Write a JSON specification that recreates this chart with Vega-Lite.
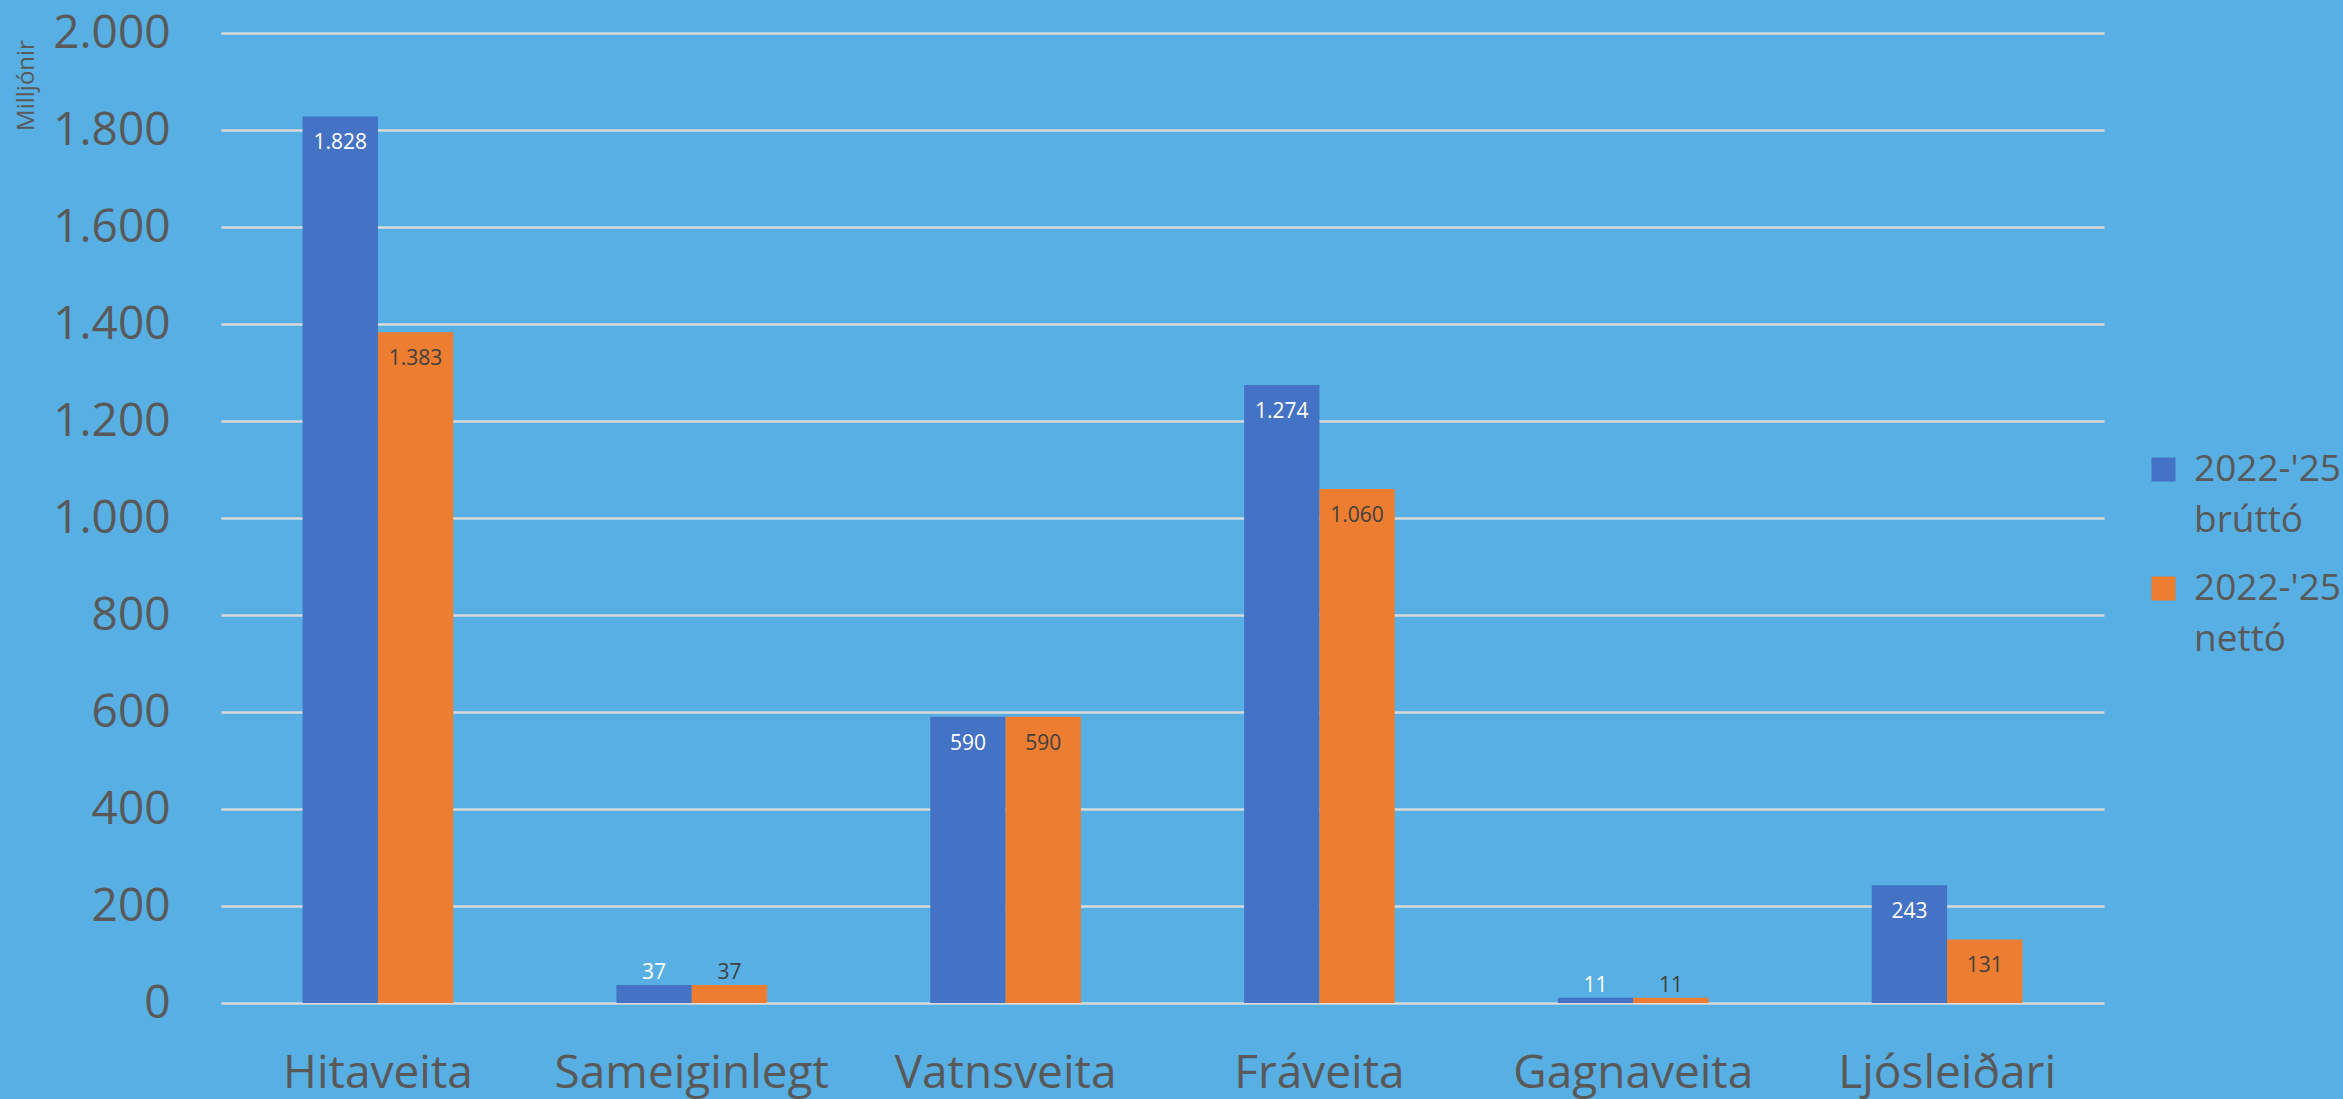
{
  "$schema": "https://vega.github.io/schema/vega-lite/v6.json",
  "width": 1883,
  "height": 970,
  "autosize": {"type": "none"},
  "padding": {"left": 221, "top": 33, "right": 239, "bottom": 96},
  "background": "#57AFE3",
  "config": {
    "view": {"stroke": null},
    "font": "Open Sans",
    "style": {"guide-label": {"lineHeight": 51}},
    "locale": {"number": {"decimal": ",", "thousands": ".", "grouping": [3], "currency": ["", " kr."]}}
  },
  "data": {
    "values": [
      {"cat": "Hitaveita", "series": "2022-'25 brúttó", "value": 1828},
      {"cat": "Hitaveita", "series": "2022-'25 nettó", "value": 1383},
      {"cat": "Sameiginlegt", "series": "2022-'25 brúttó", "value": 37},
      {"cat": "Sameiginlegt", "series": "2022-'25 nettó", "value": 37},
      {"cat": "Vatnsveita", "series": "2022-'25 brúttó", "value": 590},
      {"cat": "Vatnsveita", "series": "2022-'25 nettó", "value": 590},
      {"cat": "Fráveita", "series": "2022-'25 brúttó", "value": 1274},
      {"cat": "Fráveita", "series": "2022-'25 nettó", "value": 1060},
      {"cat": "Gagnaveita", "series": "2022-'25 brúttó", "value": 11},
      {"cat": "Gagnaveita", "series": "2022-'25 nettó", "value": 11},
      {"cat": "Ljósleiðari", "series": "2022-'25 brúttó", "value": 243},
      {"cat": "Ljósleiðari", "series": "2022-'25 nettó", "value": 131}
    ]
  },
  "encoding": {
    "x": {
      "field": "cat",
      "type": "nominal",
      "sort": null,
      "scale": {"paddingInner": 0.52, "paddingOuter": 0.26},
      "axis": {
        "title": null,
        "labelAngle": 0,
        "labelFontSize": 46,
        "labelColor": "#595959",
        "labelPadding": 48,
        "labelLimit": 500,
        "ticks": false,
        "domain": false,
        "labelBaseline": "top"
      }
    },
    "xOffset": {"field": "series", "type": "nominal"},
    "y": {
      "field": "value",
      "type": "quantitative",
      "scale": {"domain": [0, 2000]},
      "axis": {
        "title": "Milljónir",
        "titleFontSize": 24,
        "titleFontWeight": "normal",
        "titleColor": "#595959",
        "titleAngle": -90,
        "titleAlign": "center",
        "titleBaseline": "middle",
        "titleX": -195,
        "titleY": 52,
        "values": [0, 200, 400, 600, 800, 1000, 1200, 1400, 1600, 1800, 2000],
        "format": ",d",
        "labelFontSize": 46,
        "labelColor": "#595959",
        "labelPadding": 51,
        "ticks": false,
        "domain": false,
        "grid": true,
        "gridColor": "#D9D9D9",
        "gridWidth": 2.5
      }
    }
  },
  "layer": [
    {
      "mark": {"type": "bar"},
      "encoding": {
        "color": {
          "field": "series",
          "type": "nominal",
          "scale": {"range": ["#4472C4", "#ED7D31"]},
          "legend": {
            "title": null,
            "orient": "none",
            "legendX": 1924,
            "legendY": 418,
            "padding": 0,
            "symbolType": "square",
            "symbolSize": 576,
            "symbolStrokeWidth": 0,
            "labelFontSize": 37,
            "labelColor": "#595959",
            "labelOffset": 12,
            "labelExpr": "split(datum.label, ' ')",
            "labelBaseline": "middle",
            "rowPadding": 30,
            "labelLimit": 300
          }
        }
      }
    },
    {
      "transform": [{"filter": "datum.value >= 100"}],
      "mark": {"type": "text", "baseline": "middle", "dy": 27, "fontSize": 21},
      "encoding": {
        "text": {"field": "value", "type": "quantitative", "format": ",d"},
        "color": {
          "condition": {"test": "indexof(datum.series, 'brúttó') >= 0", "value": "#FFFFFF"},
          "value": "#404040"
        }
      }
    },
    {
      "transform": [{"filter": "datum.value < 100"}],
      "mark": {"type": "text", "baseline": "middle", "dy": -12, "fontSize": 21},
      "encoding": {
        "text": {"field": "value", "type": "quantitative", "format": ",d"},
        "color": {
          "condition": {"test": "indexof(datum.series, 'brúttó') >= 0", "value": "#FFFFFF"},
          "value": "#404040"
        }
      }
    }
  ]
}
